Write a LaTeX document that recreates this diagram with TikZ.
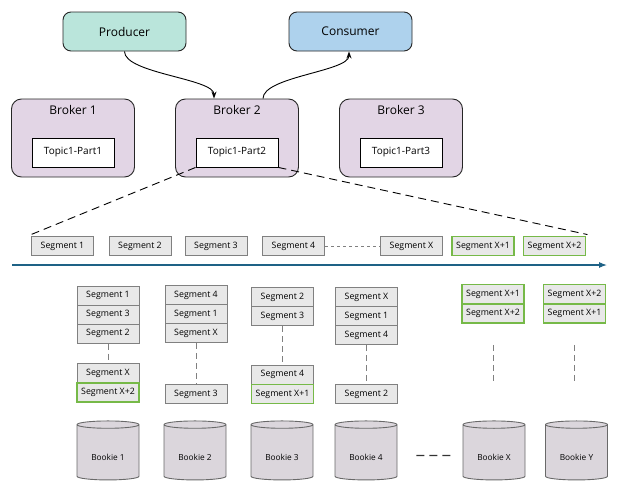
\documentclass[tikz,border=0pt]{standalone}
\usepackage{fontspec}
\setmainfont{Open Sans}
\usetikzlibrary{shapes.geometric,arrows.meta}
\definecolor{prodfill}{RGB}{186,229,219}
\definecolor{consfill}{RGB}{174,210,237}
\definecolor{brokfill}{RGB}{226,213,229}
\definecolor{segfill}{RGB}{232,232,232}
\definecolor{segdraw}{RGB}{128,128,128}
\definecolor{seggreen}{RGB}{118,185,72}
\definecolor{cylfill}{RGB}{219,214,220}
\definecolor{cyldraw}{RGB}{105,105,105}
\definecolor{axisblue}{RGB}{30,98,134}
\tikzset{
  client/.style={draw=black!85, line width=0.9pt, rounded corners=8pt, minimum width=123pt, minimum height=39pt, font=\fontsize{12}{14}\selectfont},
  broker/.style={draw=black!85, line width=0.9pt, fill=brokfill, rounded corners=10pt, minimum width=123pt, minimum height=78pt},
  btitle/.style={font=\fontsize{12}{14}\selectfont, inner sep=0pt},
  topic/.style={draw=black, line width=0.9pt, fill=white, minimum width=82pt, minimum height=29pt, font=\fontsize{10}{12}\selectfont, inner sep=0pt},
  seg/.style={draw=segdraw, line width=1pt, fill=segfill, minimum width=62pt, minimum height=19pt, inner sep=0pt, font=\fontsize{8.8}{10}\selectfont},
  seggreen/.style={seg, draw=seggreen, line width=1.9pt},
  gapline/.style={draw=segdraw, line width=1pt, dash pattern=on 6pt off 4pt},
  bookie/.style={cylinder, shape border rotate=90, aspect=0.22, draw=cyldraw, line width=0.9pt, fill=cylfill, minimum width=62pt, minimum height=59pt, inner sep=0pt, text height=18pt, text depth=2pt, font=\fontsize{8.3}{10}\selectfont},
  flow/.style={-{Stealth[length=7pt,width=5pt]}, line width=0.9pt},
  zoomline/.style={line width=0.9pt, dash pattern=on 8pt off 5pt},
}
\begin{document}
\begin{tikzpicture}[x=1pt,y=-1pt]
\useasboundingbox (0,0) rectangle (627,493);
% clients
\node[client, fill=prodfill] (prod) at (124.5,31.5) {Producer};
\node[client, fill=consfill] (cons) at (350.5,31.5) {Consumer};
% brokers
\node[broker] (b1) at (73,138) {};
\node[broker] (b2) at (237,138) {};
\node[broker] (b3) at (401,138) {};
\node[btitle] (b1t) at ([yshift=-11pt]b1.north) {Broker 1};
\node[btitle] (b2t) at ([yshift=-11pt]b2.north) {Broker 2};
\node[btitle] (b3t) at ([yshift=-11pt]b3.north) {Broker 3};
\node[topic] (t1) at (73,152.5) {Topic1-Part1};
\node[topic] (t2) at (237,152.5) {Topic1-Part2};
\node[topic] (t3) at (401,152.5) {Topic1-Part3};
% producer / consumer arrows
\draw[flow] (prod.south) .. controls +(0,22) and +(0,-20) .. ([xshift=-23pt]b2.north);
\draw[flow] ([xshift=26pt]b2.north) .. controls +(0,-22) and +(0,20) .. ([xshift=-1.5pt]cons.south);
% segment row
\node[seg] (s1) at (62.5,246) {Segment 1};
\node[seg] (s2) at (140,246) {Segment 2};
\node[seg] (s3) at (216,246) {Segment 3};
\node[seg] (s4) at (293.5,246) {Segment 4};
\node[seg] (sx) at (411.5,246) {Segment X};
\node[seggreen] (sx1) at (483,246) {Segment X+1};
\node[seggreen] (sx2) at (554.5,246) {Segment X+2};
\draw[draw=segdraw, line width=1pt, dash pattern=on 3pt off 3pt] (s4.east) -- (sx.west);
\draw[zoomline] (t2.south west) -- ([shift={(-1pt,1pt)}]s1.north west);
\draw[zoomline] (t2.south east) -- ([shift={(1pt,1pt)}]sx2.north east);
% time axis
\coordinate (ax0) at (12,265);
\coordinate (ax1) at (607,265);
\draw[axisblue, line width=1.1pt, -{Latex[length=8pt,width=6pt]}] (ax0) -- (ax1);
% column 1
\node[seg] (c1a) at (108,295.5) {Segment 1};
\node[seg] (c1b) at (108,314.5) {Segment 3};
\node[seg] (c1c) at (108,333.5) {Segment 2};
\node[seg] (c1d) at (108,373) {Segment X};
\node[seggreen] (c1e) at (108,392.5) {Segment X+2};
\draw[gapline] (c1c.south) -- (c1d.north);
% column 2
\node[seg] (c2a) at (196,295) {Segment 4};
\node[seg] (c2b) at (196,314) {Segment 1};
\node[seg] (c2c) at (196,333) {Segment X};
\node[seg] (c2d) at (196,394) {Segment 3};
\draw[gapline] (c2c.south) -- (c2d.north);
% column 3
\node[seg] (c3a) at (282.5,297) {Segment 2};
\node[seg] (c3b) at (282.5,316) {Segment 3};
\node[seg] (c3c) at (282.5,374.5) {Segment 4};
\node[seggreen] (c3d) at (282.5,394) {Segment X+1};
\draw[gapline] (c3b.south) -- (c3c.north);
% column 4
\node[seg] (c4a) at (366.5,297) {Segment X};
\node[seg] (c4b) at (366.5,316) {Segment 1};
\node[seg] (c4c) at (366.5,335) {Segment 4};
\node[seg] (c4d) at (366.5,394) {Segment 2};
\draw[gapline] (c4c.south) -- (c4d.north);
% column 5
\node[seggreen] (c5a) at (493,294) {Segment X+1};
\node[seggreen] (c5b) at (493,313.5) {Segment X+2};
\coordinate (c5e) at (493,384);
\draw[gapline] ([yshift=-21pt]c5b.south) -- (c5e);
% column 6
\node[seggreen] (c6a) at (574.5,294) {Segment X+2};
\node[seggreen] (c6b) at (574.5,313.5) {Segment X+1};
\coordinate (c6e) at (574.5,384);
\draw[gapline] ([yshift=-21pt]c6b.south) -- (c6e);
% bookies
\node[bookie] (k1) at (108,452.5) {Bookie 1};
\node[bookie] (k2) at (195,452.5) {Bookie 2};
\node[bookie] (k3) at (282,452.5) {Bookie 3};
\node[bookie] (k4) at (366,452.5) {Bookie 4};
\node[bookie] (kx) at (494,452.5) {Bookie X};
\node[bookie] (ky) at (576.5,452.5) {Bookie Y};
\draw[black!80, line width=1.3pt, dash pattern=on 8pt off 5pt] ([xshift=19pt,yshift=-3pt]k4.east) -- ([xshift=-8pt,yshift=-3pt]kx.west);
\end{tikzpicture}
\end{document}
